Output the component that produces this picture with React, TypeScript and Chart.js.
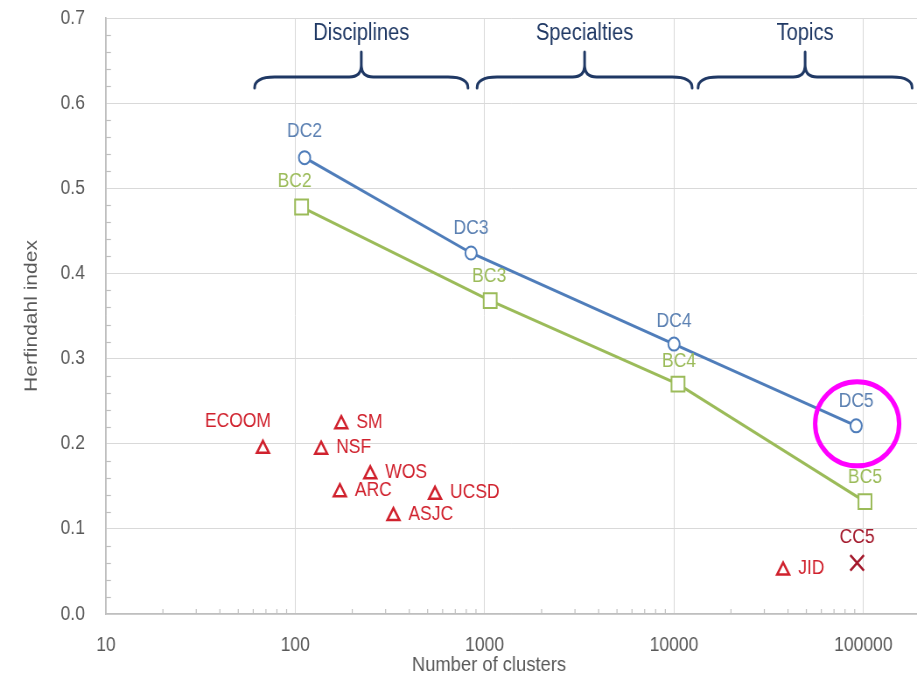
import React, { useEffect, useRef } from "react";
import { Chart, registerables } from "chart.js";

Chart.register(...registerables);

// ---------- data ----------
const dcLabels = ["DC2", "DC3", "DC4", "DC5"];
const dcClusters = [112, 848, 10000, 91600];
const dcHerfindahl = [0.536, 0.424, 0.317, 0.221];

const bcLabels = ["BC2", "BC3", "BC4", "BC5"];
const bcClusters = [108, 1070, 10500, 102000];
const bcHerfindahl = [0.478, 0.368, 0.27, 0.132];

const otherLabels = ["ECOOM", "SM", "NSF", "WOS", "ARC", "UCSD", "ASJC", "JID"];
const otherClusters = [67.5, 175, 137, 249, 172, 547, 330, 37700];
const otherHerfindahl = [0.194, 0.223, 0.193, 0.164, 0.143, 0.14, 0.115, 0.051];

const ccLabels = ["CC5"];
const ccClusters = [92700];
const ccHerfindahl = [0.06];

const xTickValues = [10, 100, 1000, 10000, 100000];
const xTitle = "Number of clusters";
const yTitle = "Herfindahl index";

const groupNames = ["Disciplines", "Specialties", "Topics"];
const groupFrom = [61, 912, 13400];
const groupTo = [817, 12470, 181000];

const highlighted = "DC5";

// ---------- style ----------
// The reference is horizontally compressed; the chart is drawn wider and squeezed.
const SQUEEZE = 0.875;
const OUT_W = 917;
const OUT_H = 682;
const IN_W = Math.round(OUT_W / SQUEEZE);
const hx = (px: number) => px / SQUEEZE; // horizontal pixel in output -> internal

const FONT = '"Liberation Sans", Arial, Helvetica, sans-serif';
const BLUE = "#4f7dba";
const BLUE_TEXT = "#5b80b2";
const GREEN = "#9bbb59";
const RED = "#d0212d";
const DARK_RED = "#a3182b";
const NAVY = "#1f3864";
const AXIS_TEXT = "#595959";
const GRID = "#d9d9d9";
const AXIS_LINE = "#bfbfbf";

type Place = [number, number, CanvasTextAlign];
const placement: Record<string, Place> = {
  DC2: [0, -26, "center"],
  BC2: [-7, -26, "center"],
  DC3: [0, -25, "center"],
  BC3: [-1, -24, "center"],
  DC4: [0, -23, "center"],
  BC4: [1, -23, "center"],
  DC5: [0, -24, "center"],
  BC5: [0, -24, "center"],
  CC5: [0, -25, "center"],
  ECOOM: [-25, -27, "center"],
};
const rightPlace: Place = [15, -2, "left"];

const toPts = (xs: number[], ys: number[]) => xs.map((x, i) => ({ x, y: ys[i] }));

export default function App() {
  const ref = useRef<HTMLCanvasElement>(null);

  useEffect(() => {
    document.body.style.margin = "0";
    const canvas = ref.current;
    if (!canvas) return;

    const labelSets = [
      { names: dcLabels, color: BLUE_TEXT },
      { names: bcLabels, color: GREEN },
      { names: otherLabels, color: RED },
      { names: ccLabels, color: DARK_RED },
    ];

    const minorTicks = {
      id: "minorTicks",
      beforeDatasetsDraw(chart: any) {
        const { ctx, chartArea, scales } = chart;
        const xs = scales.x;
        const ys = scales.y;
        ctx.save();
        ctx.strokeStyle = AXIS_LINE;
        ctx.lineWidth = 1.2;
        for (let d = 10; d < xs.max; d *= 10) {
          for (let k = 2; k <= 9; k++) {
            const v = d * k;
            if (v > xs.max) break;
            const px = xs.getPixelForValue(v);
            ctx.beginPath();
            ctx.moveTo(px, chartArea.bottom);
            ctx.lineTo(px, chartArea.bottom - 5);
            ctx.stroke();
          }
        }
        for (let i = 1; i < 35; i++) {
          if (i % 5 === 0) continue;
          const py = Math.round(ys.getPixelForValue(i * 0.02)) + 0.5;
          ctx.beginPath();
          ctx.moveTo(chartArea.left, py);
          ctx.lineTo(chartArea.left + hx(5), py);
          ctx.stroke();
        }
        ctx.restore();
      },
    };

    const decorations = {
      id: "decorations",
      afterDraw(chart: any) {
        const { ctx, chartArea, scales } = chart;
        const top = chartArea.top;
        const yLine = top + 59;
        const yEnd = top + 70;
        const yTip = top + 34;
        const yText = top + 16;
        ctx.save();
        // x-axis title (centred under the 1000 column as in the original)
        ctx.fillStyle = AXIS_TEXT;
        ctx.font = `21px ${FONT}`;
        ctx.textAlign = "center";
        ctx.textBaseline = "middle";
        ctx.fillText(xTitle, hx(489), chartArea.bottom + 51);
        // braces with group names
        ctx.strokeStyle = NAVY;
        ctx.lineWidth = 3;
        ctx.lineCap = "round";
        ctx.lineJoin = "round";
        groupNames.forEach((name, i) => {
          const x0 = scales.x.getPixelForValue(groupFrom[i]);
          const x1 = scales.x.getPixelForValue(groupTo[i]);
          const mid = (x0 + x1) / 2;
          const rx = hx(20);
          const rm = hx(12);
          ctx.beginPath();
          ctx.moveTo(x0, yEnd);
          ctx.quadraticCurveTo(x0, yLine, x0 + rx, yLine);
          ctx.lineTo(mid - rm, yLine);
          ctx.quadraticCurveTo(mid, yLine, mid, yLine - 12);
          ctx.lineTo(mid, yTip);
          ctx.moveTo(mid, yLine - 12);
          ctx.quadraticCurveTo(mid, yLine, mid + rm, yLine);
          ctx.lineTo(x1 - rx, yLine);
          ctx.quadraticCurveTo(x1, yLine, x1, yEnd);
          ctx.stroke();
          ctx.fillStyle = NAVY;
          ctx.font = `23px ${FONT}`;
          ctx.fillText(name, mid, yText);
        });
        ctx.restore();
      },
    };

    const pointLabels = {
      id: "pointLabels",
      afterDatasetsDraw(chart: any) {
        const ctx = chart.ctx;
        ctx.save();
        ctx.font = `20px ${FONT}`;
        ctx.textBaseline = "middle";
        labelSets.forEach((set, di) => {
          const meta = chart.getDatasetMeta(di);
          meta.data.forEach((el: any, i: number) => {
            const name = set.names[i];
            const [dx, dy, align] = placement[name] ?? rightPlace;
            ctx.fillStyle = set.color;
            ctx.textAlign = align;
            ctx.fillText(name, el.x + hx(dx), el.y + dy);
            if (name === highlighted) {
              ctx.strokeStyle = "#ff00ff";
              ctx.lineWidth = 5;
              ctx.beginPath();
              ctx.ellipse(el.x + hx(1), el.y - 2, hx(42), 42, 0, 0, Math.PI * 2);
              ctx.stroke();
            }
          });
        });
        ctx.restore();
      },
    };

    const chart = new Chart(canvas, {
      type: "scatter",
      data: {
        datasets: [
          {
            label: "DC",
            data: toPts(dcClusters, dcHerfindahl),
            showLine: true,
            borderColor: BLUE,
            borderWidth: 3,
            pointStyle: "circle",
            pointRadius: 6.5,
            pointBorderWidth: 2,
            pointBorderColor: BLUE,
            pointBackgroundColor: "#ffffff",
          },
          {
            label: "BC",
            data: toPts(bcClusters, bcHerfindahl),
            showLine: true,
            borderColor: GREEN,
            borderWidth: 3,
            pointStyle: "rect",
            pointRadius: 10.5,
            pointBorderWidth: 2,
            pointBorderColor: GREEN,
            pointBackgroundColor: "#ffffff",
          },
          {
            label: "Other",
            data: toPts(otherClusters, otherHerfindahl),
            showLine: false,
            pointStyle: "triangle",
            pointRadius: 8,
            pointBorderWidth: 2.5,
            pointBorderColor: RED,
            pointBackgroundColor: "rgba(255,255,255,0)",
          },
          {
            label: "CC",
            data: toPts(ccClusters, ccHerfindahl),
            showLine: false,
            pointStyle: "crossRot",
            pointRadius: 11,
            pointBorderWidth: 2.5,
            pointBorderColor: DARK_RED,
            borderColor: DARK_RED,
          },
        ],
      },
      options: {
        responsive: false,
        devicePixelRatio: 1,
        animation: false,
        events: [],
        layout: { autoPadding: false, padding: { top: 18, left: 0, right: 0, bottom: 0 } },
        plugins: {
          legend: { display: false },
          tooltip: { enabled: false },
        },
        scales: {
          x: {
            type: "logarithmic",
            position: "bottom",
            min: 10,
            max: 192000,
            afterBuildTicks: (s: any) => {
              s.ticks = xTickValues.map((v) => ({ value: v }));
            },
            afterFit: (s: any) => {
              s.height = 68;
              s.paddingLeft = 0;
              s.paddingRight = 0;
            },
            ticks: {
              autoSkip: false,
              maxRotation: 0,
              padding: 19,
              color: AXIS_TEXT,
              font: { family: FONT, size: 20 },
              callback: (v: any) => String(v),
            },
            grid: { color: GRID, lineWidth: 1, drawTicks: false },
            border: { color: AXIS_LINE, width: 1.5 },
            title: { display: false },
          },
          y: {
            type: "linear",
            min: 0,
            max: 0.7,
            afterFit: (s: any) => {
              s.width = Math.round(hx(106));
              s.paddingTop = 0;
              s.paddingBottom = 0;
            },
            ticks: {
              stepSize: 0.1,
              padding: 24,
              color: AXIS_TEXT,
              font: { family: FONT, size: 20 },
              callback: (v: any) => Number(v).toFixed(1),
            },
            grid: { color: GRID, lineWidth: 1, drawTicks: false },
            border: { color: AXIS_LINE, width: 1.7 },
            title: {
              display: true,
              text: yTitle,
              color: AXIS_TEXT,
              font: { family: FONT, size: 21, lineHeight: 1 },
              padding: { top: 26, bottom: 0 },
            },
          },
        },
      },
      plugins: [minorTicks, decorations, pointLabels],
    } as any);

    return () => chart.destroy();
  }, []);

  return (
    <div
      style={{
        position: "fixed",
        left: 0,
        top: 0,
        width: OUT_W,
        height: OUT_H,
        overflow: "hidden",
        background: "#ffffff",
      }}
    >
      <canvas
        ref={ref}
        width={IN_W}
        height={OUT_H}
        style={{ display: "block", width: `${OUT_W}px`, height: `${OUT_H}px` }}
      />
    </div>
  );
}
